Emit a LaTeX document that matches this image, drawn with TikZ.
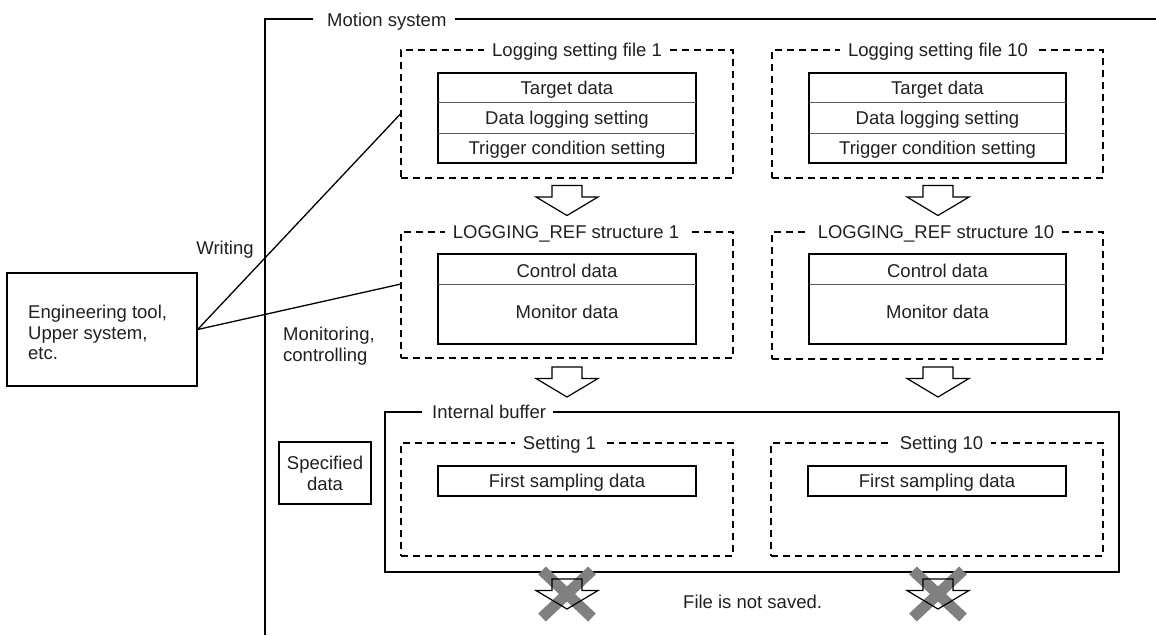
\documentclass[tikz,border=0pt]{standalone}
\usepackage{fontspec}
\setmainfont{Liberation Sans}
\definecolor{xgray}{RGB}{128,128,128}
\definecolor{ink}{RGB}{35,31,32}
\begin{document}
\begin{tikzpicture}[x=1pt,y=-1pt,
  font=\fontsize{18.5}{20.5}\selectfont, text=ink,
  solidbox/.style={draw, line width=1.3pt, inner sep=0pt},
  dashbox/.style={draw, line width=1.25pt, dash pattern=on 7pt off 5pt, inner sep=0pt},
  frame/.style={line width=1.3pt},
  rowsep/.style={line width=0.9pt, draw=black!65},
  title/.style={fill=white, inner xsep=8pt, inner ysep=1pt, anchor=base},
  lbl/.style={inner sep=0pt, anchor=base},
  link/.style={line width=1.3pt},
  blockarrow/.style={draw, line width=1.2pt, line join=miter},
  pics/dnarrow/.style={code={\draw[blockarrow, fill=white] (-15,0) -- (15,0) -- (15,11.5) -- (31,11.5) -- (0,30) -- (-31,11.5) -- (-15,11.5) -- cycle;}},
  pics/noarrow/.style={code={
     \draw[line width=11pt, xgray] (-25,-23.5) -- (25,23.5);
     \draw[line width=11pt, xgray] (-25,23.5) -- (25,-23.5);
     \draw[blockarrow] (-15,-15) -- (15,-15) -- (15,-3.5) -- (31,-3.5) -- (0,15) -- (-31,-3.5) -- (-15,-3.5) -- cycle;}},
]
\useasboundingbox (0,0) rectangle (1156,635);

% Motion system frame
\draw[frame] (313,19) -- (265,19) -- (265,635);
\draw[frame] (455,19) -- (1156,19);
\node[lbl, anchor=base west] (ms) at (327,26) {Motion system};

% Logging setting files
\node[dashbox, minimum width=332pt, minimum height=128pt] (ls1) at (567,114) {};
\node[title, anchor=base west] (ls1t) at (484,56.5) {Logging setting file 1};
\node[solidbox, minimum width=258pt, minimum height=90pt] (tb1) at (567,118) {};
\draw[rowsep] (438,102) -- (696,102);
\draw[rowsep] (438,133) -- (696,133);
\node[lbl] (td1) at (567,94) {Target data};
\node[lbl] (dl1) at (567,124) {Data logging setting};
\node[lbl] (tc1) at (567,154.5) {Trigger condition setting};

\node[dashbox, minimum width=331pt, minimum height=128pt] (ls10) at (937.5,114) {};
\node[title] (ls10t) at (938,56.5) {Logging setting file 10};
\node[solidbox, minimum width=257pt, minimum height=90pt] (tb10) at (937.5,118) {};
\draw[rowsep] (809,102) -- (1066,102);
\draw[rowsep] (809,133) -- (1066,133);
\node[lbl] (td10) at (937.5,94) {Target data};
\node[lbl] (dl10) at (937.5,124) {Data logging setting};
\node[lbl] (tc10) at (937.5,154.5) {Trigger condition setting};

\pic at (567,185.5) {dnarrow};
\pic at (938,185.5) {dnarrow};

% LOGGING_REF structures
\node[dashbox, minimum width=332pt, minimum height=126pt] (lr1) at (567,295) {};
\node[title] (lr1t) at (566,238.5) {LOGGING\_REF structure 1};
\node[solidbox, minimum width=258pt, minimum height=90pt] (mt1) at (567,299) {};
\draw[rowsep] (438,284) -- (696,284);
\node[lbl] (cd1) at (567,277.5) {Control data};
\node[lbl] (md1) at (567,318.5) {Monitor data};

\node[dashbox, minimum width=331pt, minimum height=127pt] (lr10) at (937.5,295.5) {};
\node[title] (lr10t) at (936,238.5) {LOGGING\_REF structure 10};
\node[solidbox, minimum width=257pt, minimum height=90pt] (mt10) at (937.5,299) {};
\draw[rowsep] (809,284) -- (1066,284);
\node[lbl] (cd10) at (937.5,277.5) {Control data};
\node[lbl] (md10) at (937.5,318.5) {Monitor data};

\pic at (567,367) {dnarrow};
\pic at (938,367) {dnarrow};

% Internal buffer
\draw[frame] (422,412) -- (385,412) -- (385,572) -- (1119,572) -- (1119,412) -- (553,412);
\node[lbl, anchor=base west] (ib) at (432,418.5) {Internal buffer};

\node[dashbox, minimum width=332pt, minimum height=113pt] (s1) at (567,499.5) {};
\node[title] (s1t) at (559.5,449.5) {Setting 1};
\node[solidbox, minimum width=258pt, minimum height=30pt] (f1) at (567,481) {};
\node[lbl] (f1t) at (567,487.5) {First sampling data};

\node[dashbox, minimum width=332pt, minimum height=113pt] (s10) at (937,499.5) {};
\node[title] (s10t) at (941.5,449.5) {Setting 10};
\node[solidbox, minimum width=258pt, minimum height=30pt] (f10) at (937,481) {};
\node[lbl] (f10t) at (937,487.5) {First sampling data};

% Specified data
\node[solidbox, minimum width=92pt, minimum height=62pt] (sd) at (325,473) {};
\node[lbl, anchor=north, align=center] (sdt) at (325,456) {Specified\\data};

% Not saved
\pic at (567,594) {noarrow};
\pic at (938,594) {noarrow};
\node[lbl, anchor=base west] (fns) at (683,608.5) {File is not saved.};

% Engineering tool
\node[solidbox, minimum width=190pt, minimum height=113pt] (eng) at (102,329.5) {};
\node[lbl, anchor=north west, align=left] (engt) at (28,305) {Engineering tool,\\Upper system,\\etc.};
\node[lbl] (wr) at (225,254.5) {Writing};
\node[lbl, anchor=north west, align=left] (mon) at (283,327) {Monitoring,\\controlling};

\coordinate (monend) at (401,284);
\draw[link] (eng.east) -- (ls1.west);
\draw[link] (eng.east) -- (monend);
\end{tikzpicture}
\end{document}
